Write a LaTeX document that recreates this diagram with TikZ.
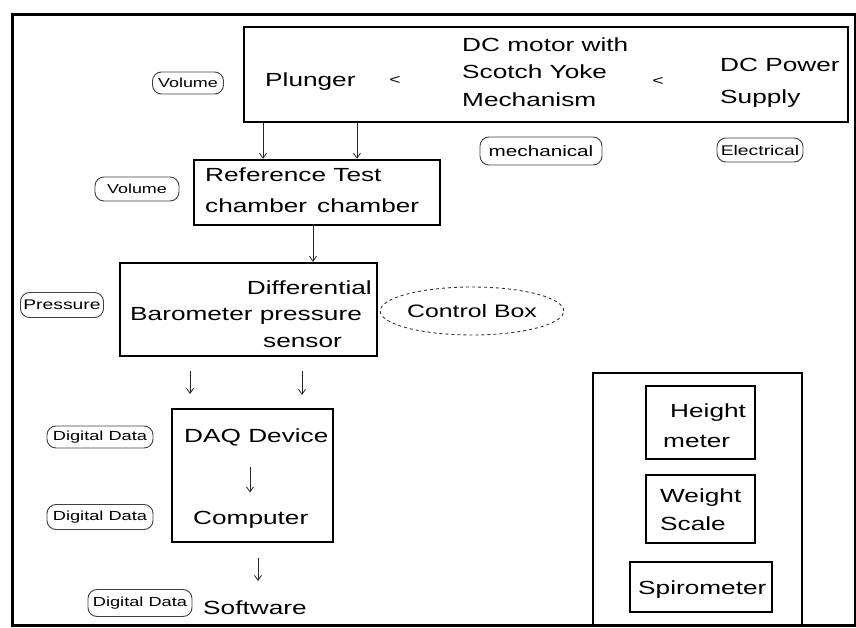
\documentclass[tikz,border=0pt]{standalone}
\usepackage{fontspec}
\setmainfont{Liberation Sans}[FakeStretch=1.38]
\usetikzlibrary{arrows.meta,shapes.geometric}
\begin{document}
\begin{tikzpicture}[x=1pt,y=-1pt,
  frame/.style={draw, line width=3pt},
  box/.style={draw, line width=2.4pt, inner sep=0pt},
  txt/.style={font=\fontsize{19}{23}\selectfont, inner sep=0pt},
  lab/.style={draw=black!75, line width=0.9pt, rounded corners=9pt, inner sep=0pt},
  arr/.style={-{Straight Barb[length=5pt,width=7pt]}, line width=0.8pt, draw=black!85}]
\useasboundingbox (0,0) rectangle (856,628);
% outer frame
\draw[frame] (12,15) rectangle (855,625);
% main boxes
\node[box, minimum width=604pt, minimum height=95pt] (top) at (546,74.5) {};
\node[box, minimum width=246pt, minimum height=65pt] (ref) at (317,192.5) {};
\node[box, minimum width=257pt, minimum height=93pt] (baro) at (248.5,309.5) {};
\node[box, minimum width=161pt, minimum height=133pt] (daq) at (252.5,475.5) {};
\node[box, line width=2pt, minimum width=209pt, minimum height=252pt] (side) at (697.5,499) {};
\node[box, minimum width=109pt, minimum height=73pt] (hm) at (700.5,422.5) {};
\node[box, minimum width=109pt, minimum height=68pt] (ws) at (700.5,509) {};
\node[box, minimum width=142pt, minimum height=50pt] (sp) at (701,587) {};
% top box text
\node[txt, anchor=base west] (plunger) at (265,87) {Plunger};
\node[txt, font=\fontsize{14}{15}\selectfont] (lt1) at (395,80) {<};
\node[txt, anchor=base west] (dc1) at (462,52) {DC motor with};
\node[txt, anchor=base west] (dc2) at (462,79) {Scotch Yoke};
\node[txt, anchor=base west] (dc3) at (462,107) {Mechanism};
\node[txt, font=\fontsize{14}{15}\selectfont] (lt2) at (658,81) {<};
\node[txt, anchor=base west] (ps1) at (720,72) {DC Power};
\node[txt, anchor=base west] (ps2) at (720,104) {Supply};
% reference/test chamber text
\node[txt, anchor=base west] (rt) at (205,182) {Reference Test};
\node[txt, anchor=base west] (ch1) at (205,213) {chamber};
\node[txt, anchor=base west] (ch2) at (317,213) {chamber};
% barometer box text
\node[txt, anchor=base east] (diff) at (372,294) {Differential};
\node[txt, anchor=base west] (bp) at (130,320) {Barometer pressure};
\node[txt, anchor=base west] (sens) at (263,347) {sensor};
% DAQ box text
\node[txt, anchor=base west] (daqt) at (184,442) {DAQ Device};
\node[txt, anchor=base west] (comp) at (193,524) {Computer};
\node[txt, anchor=base west] (soft) at (203,614) {Software};
% side box text
\node[txt, anchor=base west] (h1) at (670,417) {Height};
\node[txt, anchor=base west] (h2) at (663,447) {meter};
\node[txt, anchor=base west] (w1) at (660,502) {Weight};
\node[txt, anchor=base west] (w2) at (660,530) {Scale};
\node[txt, anchor=base west] (spt) at (638,594) {Spirometer};
% labels
\node[lab, minimum width=71pt, minimum height=22pt, font=\fontsize{13}{14}\selectfont] (vol1) at (188,83) {Volume};
\node[lab, minimum width=84pt, minimum height=24pt, font=\fontsize{13}{14}\selectfont] (vol2) at (137,189) {Volume};
\node[lab, minimum width=122pt, minimum height=28pt, font=\fontsize{15}{16}\selectfont] (mech) at (541,151) {mechanical};
\node[lab, minimum width=86pt, minimum height=24pt, font=\fontsize{14}{16}\selectfont] (elec) at (760,150) {Electrical};
\node[lab, minimum width=83pt, minimum height=25pt, font=\fontsize{14}{15}\selectfont] (pres) at (62,305) {Pressure};
\node[ellipse, draw=black!80, dashed, line width=0.9pt, minimum width=160pt, minimum height=48pt, inner sep=0pt, font=\fontsize{18}{20}\selectfont] (ctrl) at (472,311) {Control Box};
\node[lab, minimum width=106pt, minimum height=22pt, font=\fontsize{13.2}{14}\selectfont] (dd1) at (100,437) {Digital Data};
\node[lab, minimum width=106pt, minimum height=25pt, font=\fontsize{13.2}{14}\selectfont] (dd2) at (100,517) {Digital Data};
\node[lab, minimum width=104pt, minimum height=27pt, font=\fontsize{13.2}{14}\selectfont] (dd3) at (140,603) {Digital Data};
% free-end coordinates
\coordinate (b1s) at (190,371);
\coordinate (b1e) at (190,394);
\coordinate (b2s) at (302,371);
\coordinate (b2e) at (302,395);
% connectors
\draw[arr] (top.south -| 263,0) -- (ref.north -| 263,0);
\draw[arr] (top.south -| 357,0) -- (ref.north -| 357,0);
\draw[arr] (ref.south -| 313,0) -- (baro.north -| 313,0);
\draw[arr] (b1s) -- (b1e);
\draw[arr] (b2s) -- (b2e);
\draw[arr, shorten <=21pt, shorten >=18pt] (daqt.south -| 250,0) -- (comp.north -| 250,0);
\draw[arr, shorten <=15pt, shorten >=19pt] (daq.south -| 258,0) -- (soft.north -| 258,0);
\end{tikzpicture}
\end{document}
